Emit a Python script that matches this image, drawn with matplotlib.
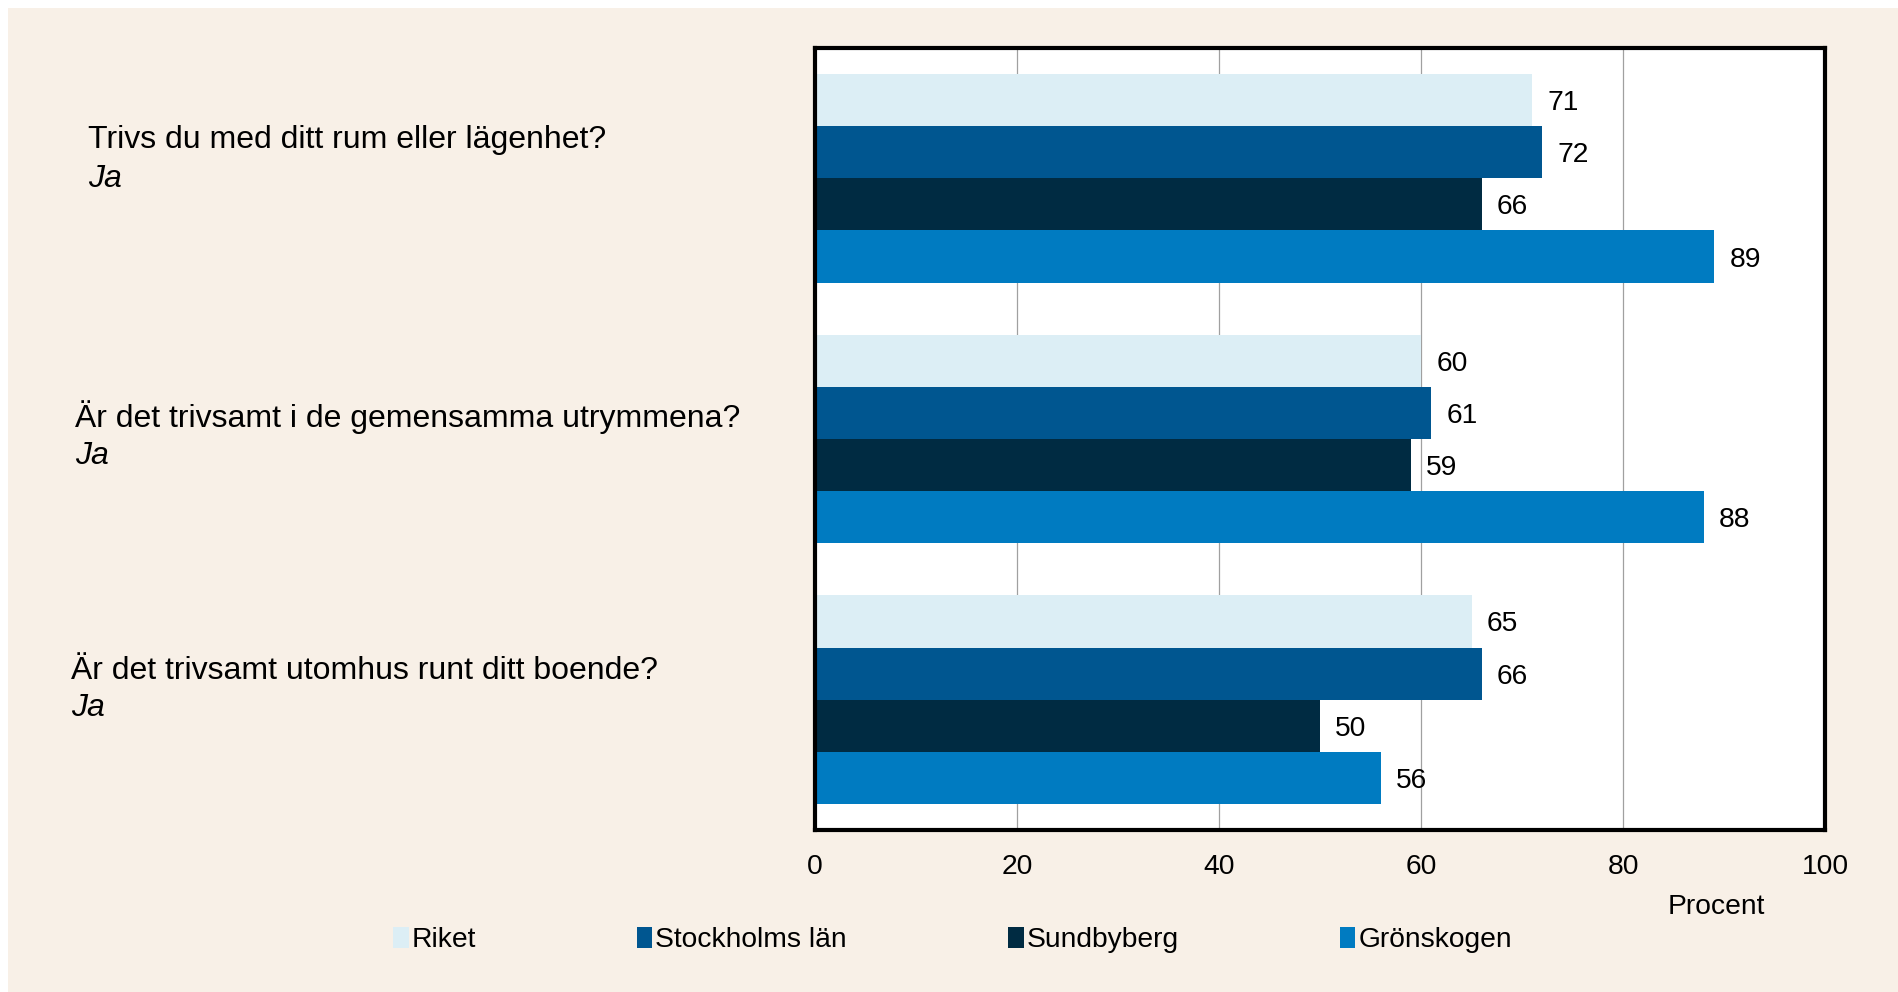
import matplotlib.pyplot as plt
import matplotlib.patches as mpatches
import matplotlib.transforms as mtransforms
import numpy as np

plt.rcParams['font.family'] = ['Liberation Sans', 'DejaVu Sans']

# data
questions = ['Trivs du med ditt rum eller lägenhet?',
             'Är det trivsamt i de gemensamma utrymmena?',
             'Är det trivsamt utomhus runt ditt boende?']
answer = 'Ja'
series = ['Riket', 'Stockholms län', 'Sundbyberg', 'Grönskogen']
riket = [71, 60, 65]
stockholm = [72, 61, 66]
sundbyberg = [66, 59, 50]
gronskogen = [89, 88, 56]
xticks = [0, 20, 40, 60, 80, 100]

colors = ['#dceef5', '#005690', '#002b42', '#007bc1']
bg = '#f8f0e7'
fs = 20.3

fig = plt.figure(figsize=(18.98, 9.92), dpi=100)
fig.patch.set_facecolor('white')
fig.patches.append(mpatches.Rectangle((8 / 1898, 0), 1, 1 - 8 / 992,
                                      transform=fig.transFigure,
                                      facecolor=bg, edgecolor='none', zorder=-10))

ax = fig.add_axes([0.4294, 0.1633, 0.9616 - 0.4294, 0.9516 - 0.1633])
ax.set_facecolor('white')

y = np.arange(len(questions))
h = 0.2
for i, (name, vals) in enumerate(zip(series, [riket, stockholm, sundbyberg, gronskogen])):
    pos = y + (i - 1.5) * h
    ax.barh(pos, vals, height=h, color=colors[i], label=name, zorder=3)
    for p, v in zip(pos, vals):
        ax.annotate(str(v), (v, p), xytext=(11, 0), textcoords='offset points',
                    va='center_baseline', ha='left', fontsize=fs)

ax.set_xlim(0, 100)
ax.set_ylim(2.5, -0.5)
ax.set_xticks(xticks)
ax.set_xticklabels([str(t) for t in xticks], fontsize=fs)
ax.tick_params(axis='x', length=0, pad=17)
ax.set_yticks([])
ax.grid(axis='x', color='#a0a0a0', linewidth=0.9, zorder=0)
for s in ax.spines.values():
    s.set_linewidth(3)
    s.set_color('black')
    s.set_zorder(5)

# question labels on the left
label_x = [88 / 1898, 75 / 1898, 71 / 1898]
q_off = [-0.162, -0.097, -0.125]
a_off = [-0.01, 0.051, 0.019]
blend = mtransforms.blended_transform_factory(fig.transFigure, ax.transData)
for i, q in enumerate(questions):
    ax.text(label_x[i], i + q_off[i], q, transform=blend, ha='left',
            va='center_baseline', fontsize=23)
    ax.text(label_x[i], i + a_off[i], answer, transform=blend, ha='left',
            va='center_baseline', fontsize=23, style='italic')

fig.text(1716 / 1898, 1 - 904 / 992, 'Procent', ha='center', va='center_baseline',
         fontsize=fs)

fig.legend(loc='center left', bbox_to_anchor=(393 / 1898, 1 - 940 / 992), ncol=4,
           frameon=False, fontsize=fs, handlelength=0.55, handleheight=0.8,
           handletextpad=0.1, columnspacing=5.72, borderpad=0, borderaxespad=0)

fig.savefig('out.png', dpi=100, facecolor=fig.get_facecolor())
